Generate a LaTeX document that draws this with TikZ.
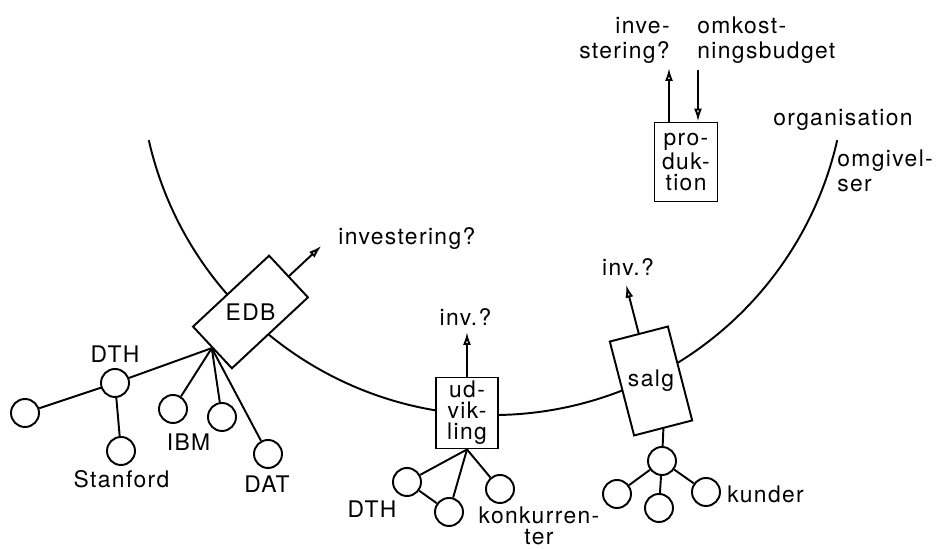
\documentclass[tikz,border=0pt]{standalone}
\usepackage{fontspec}
\setmainfont{TeX Gyre Heros}[LetterSpace=6]
\usetikzlibrary{arrows.meta,calc,positioning}

\tikzset{
	unit/.style={draw,fill=white,line width=1.1pt,align=center,inner sep=1pt,
		font=\fontsize{13}{12}\selectfont},
	ring/.style={draw,circle,line width=1.1pt,minimum size=0.56cm,inner sep=0pt},
	tie/.style={line width=1.1pt},
	invarrow/.style={line width=1.1pt,-{Latex[open,length=2.6mm,width=1.6mm]}},
	tag/.style={inner sep=0pt}
}

\begin{document}
\begin{tikzpicture}[font=\fontsize{13}{14}\selectfont]
	\useasboundingbox (0,0) rectangle (18.72,10.98);

	% organisation / omgivelser
	\coordinate (centre) at (9.86,9.74);
	\draw[tie] ($(centre)+(192.8:7.06)$) arc[start angle=192.8,end angle=347.2,radius=7.06];

	% EDB
	\node[unit,rotate=43,minimum width=2.08cm,minimum height=1.14cm] (edb) at (5.01,4.74) {};
	\node (edbtext) at (edb.center) {EDB};
	\coordinate (edbinv) at ($(edb.east)+(43:0.88)$);
	\draw[invarrow] (edb.east) -- (edbinv);
	\node[tag,anchor=base west] (edblabel) at (6.76,6.08) {investering?};

	\node[ring] (dth) at (2.30,3.32) {};
	\node[ring] (dthleft) at (0.50,2.72) {};
	\node[ring] (stanford) at (2.42,1.96) {};
	\node[ring] (ibma) at (3.46,2.80) {};
	\node[ring] (ibmb) at (4.44,2.64) {};
	\node[ring] (dat) at (5.36,1.90) {};
	\foreach \n in {dth,ibma,ibmb,dat}
		\draw[tie] (edb.west) -- (\n);
	\draw[tie] (dth) -- (dthleft);
	\draw[tie] (dth) -- (stanford);

	\node[tag,anchor=base] (dthlabel) at (2.30,3.72) {DTH};
	\node[tag,anchor=base] (stanfordlabel) at (2.43,1.22) {Stanford};
	\node[tag,anchor=base] (ibmlabel) at (3.77,1.96) {IBM};
	\node[tag,anchor=base] (datlabel) at (5.34,1.12) {DAT};

	% udvikling
	\node[unit,minimum width=1.24cm,minimum height=1.42cm] (udv) at (9.34,2.72) {ud-\\vik-\\ling};
	\coordinate (udvinv) at (9.34,4.34);
	\draw[invarrow] (udv.north) -- (udvinv);
	\node[tag,anchor=base] (udvlabel) at (9.31,4.46) {inv.?};

	\node[ring] (udva) at (8.14,1.34) {};
	\node[ring] (udvb) at (8.98,0.74) {};
	\node[ring] (udvc) at (10.0,1.20) {};
	\foreach \n in {udva,udvb,udvc}
		\draw[tie] (udv.south) -- (\n);
	\draw[tie] (udva) -- (udvb);

	\node[tag,anchor=base] (udvdth) at (7.44,0.62) {DTH};
	\node[tag,anchor=north,align=center,font=\fontsize{13}{11.5}\selectfont] (konk) at (10.78,0.84) {konkurren-\\ter};

	% salg
	\node[unit,rotate=14.5,minimum width=1.2cm,minimum height=1.94cm] (salg) at (13.02,3.36) {};
	\node (salgtext) at (salg.center) {salg};
	\coordinate (salginv) at ($(salg.north)+(104.5:1.0)$);
	\draw[invarrow] (salg.north) -- (salginv);
	\node[tag,anchor=base] (salglabel) at (12.56,5.46) {inv.?};

	\node[ring] (kcentre) at (13.24,1.76) {};
	\node[ring] (kunda) at (12.34,1.10) {};
	\node[ring] (kundb) at (13.18,0.82) {};
	\node[ring] (kundc) at (14.12,1.14) {};
	\draw[tie] (salg.south) -- (kcentre);
	\foreach \n in {kunda,kundb,kundc}
		\draw[tie] (kcentre) -- (\n);
	\node[tag,anchor=base west] (kunder) at (14.54,0.92) {kunder};

	% produktion
	\node[unit,minimum width=1.26cm,minimum height=1.58cm] (prod) at (13.72,7.74) {pro-\\duk-\\tion};
	\coordinate (produp) at (13.38,9.62);
	\coordinate (proddown) at (13.96,9.58);
	\draw[invarrow] ([xshift=-0.34cm]prod.north) -- (produp);
	\draw[invarrow] (proddown) -- ([xshift=0.24cm]prod.north);
	\node[tag,anchor=north east,align=right] (prodinv) at (13.40,10.64) {inve-\\stering?};
	\node[tag,anchor=north west,align=left] (prodbudget) at (13.94,10.64) {omkost-\\ningsbudget};

	\node[tag,anchor=base west] (orglabel) at (15.46,8.46) {organisation};
	\node[tag,anchor=north west,align=left] (omglabel) at (16.74,7.98) {omgivel-\\ser};
\end{tikzpicture}
\end{document}
